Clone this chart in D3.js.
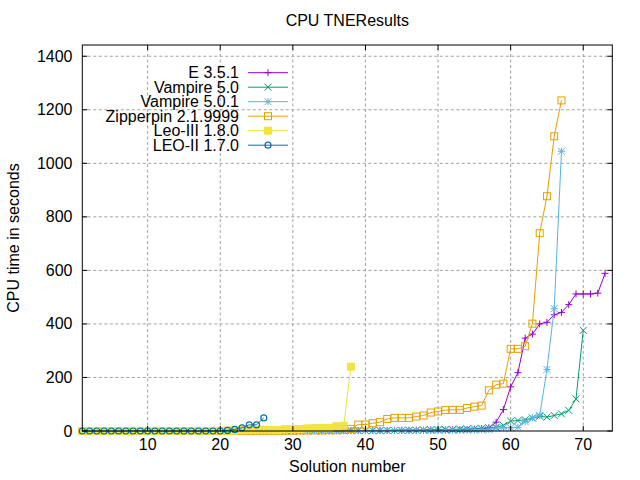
<!DOCTYPE html>
<html><head><meta charset="utf-8">
<script src="https://cdn.jsdelivr.net/npm/d3@7"></script>
<style>body{margin:0;background:#fff}svg text{font-family:"Liberation Sans",Arial,sans-serif;font-size:16px}</style>
</head><body>
<svg id="c" width="640" height="480"></svg>
<script>
const seriesNames = ["E 3.5.1","Vampire 5.0","Vampire 5.0.1","Zipperpin 2.1.9999","Leo-III 1.8.0","LEO-II 1.7.0"];
const seriesColors = ["#9400d3","#009e73","#56b4e9","#e69f00","#f0e442","#0072b2"];
const seriesMarkers = ["plus","cross","star","square","fsquare","circle"];
const xTicks = [10,20,30,40,50,60,70];
const yTicks = [0,200,400,600,800,1000,1200,1400];

const eValues = [0,0,0,0,0,0,0,0,0,0, 0,0,0,0,0,0,0,0,0,1, 1,1,1,1,1,1,1,1,1,1, 1,1,1,1,1,1,2,2,2,2, 2,2,2,3,3,3,3,3,4,4, 4,5,5,6,7,9,12,33,80,165, 218,347,362,400,406,434,443,472,512,512, 512,515,589];
const vamp50Values = [0,0,0,0,0,0,0,0,0,0, 0,0,0,0,0,0,0,0,0,0, 1,1,1,1,1,1,1,1,1,1, 1,1,1,1,1,1,1,2,2,2, 2,2,2,2,2,3,3,4,5,5, 6,6,7,8,8,10,12,14,21,37, 39,42,48,55,52,58,64,77,120,376];
const vamp501Values = [0,0,0,0,0,0,0,0,0,0, 0,0,0,0,0,0,0,0,0,0, 0,0,0,0,0,0,0,0,0,0, 1,1,1,1,1,1,1,1,1,1, 1,1,2,2,2,2,2,2,2,2, 3,3,3,3,4,4,5,11,12,12, 14,35,49,58,230,457,1045];
const zipValues = [0,0,0,0,0,0,0,0,0,0, 0,0,0,0,0,0,0,0,0,0, 1,1,1,1,1,1,1,1,1,1, 2,2,2,2,3,3,4,8,24,24, 29,33,45,49,49,49,54,58,69,73, 78,79,79,86,91,95,152,173,177,307, 307,317,401,739,877,1101,1235];
const leo3Values = [0,0,0,0,0,0,0,0,0,0, 0,0,0,0,0,0,0,0,0,1, 1,2,3,4,4,5,4,4,7,7, 7,10,11,11,11,18,20,240];
const leo2Values = [0,0,0,0,0,0,0,0,0,0, 0,0,0,0,0,0,0,0,0,0, 2,6,12,23,23,49];
const allValues = [eValues,vamp50Values,vamp501Values,zipValues,leo3Values,leo2Values];

const svg = d3.select("#c");
const L=82.3,R=612.3,T=45,B=431;
const x = d3.scaleLinear().domain([1,74]).range([L,R]);
const y = d3.scaleLinear().domain([0,1442]).range([B,T]);

// grid
const g = svg.append("g");
g.selectAll(".gx").data(xTicks).enter().append("line")
 .attr("x1",d=>x(d)).attr("x2",d=>x(d)).attr("y1",B).attr("y2",T)
 .attr("stroke","#a0a0a0").attr("stroke-width",1).attr("stroke-dasharray","3,2.5");
g.selectAll(".gy").data(yTicks.filter(d=>d>0)).enter().append("line")
 .attr("x1",L).attr("x2",R).attr("y1",d=>y(d)).attr("y2",d=>y(d))
 .attr("stroke","#a0a0a0").attr("stroke-width",1).attr("stroke-dasharray","3,2.5");

function marker(sel,type,color,cx,cy){
  const s=3.5;
  if(type==="plus"){
    sel.append("path").attr("d",`M${cx-s},${cy}H${cx+s}M${cx},${cy-s}V${cy+s}`).attr("stroke",color).attr("fill","none");
  }else if(type==="cross"){
    sel.append("path").attr("d",`M${cx-s},${cy-s}L${cx+s},${cy+s}M${cx-s},${cy+s}L${cx+s},${cy-s}`).attr("stroke",color).attr("fill","none");
  }else if(type==="star"){
    sel.append("path").attr("d",`M${cx-s},${cy}H${cx+s}M${cx},${cy-s}V${cy+s}M${cx-s},${cy-s}L${cx+s},${cy+s}M${cx-s},${cy+s}L${cx+s},${cy-s}`).attr("stroke",color).attr("fill","none");
  }else if(type==="square"){
    sel.append("rect").attr("x",cx-s).attr("y",cy-s).attr("width",2*s).attr("height",2*s).attr("stroke",color).attr("fill","none");
  }else if(type==="fsquare"){
    sel.append("rect").attr("x",cx-s-0.5).attr("y",cy-s-0.5).attr("width",2*s+1).attr("height",2*s+1).attr("fill",color);
  }else{
    sel.append("circle").attr("cx",cx).attr("cy",cy).attr("r",3).attr("stroke",color).attr("stroke-width",1.2).attr("fill","none");
  }
}

const line = d3.line().x((d,i)=>x(i+1)).y(d=>y(d));
allValues.forEach((vals,k)=>{
  const sg = svg.append("g");
  sg.append("path").datum(vals).attr("d",line).attr("fill","none").attr("stroke",seriesColors[k]).attr("stroke-width",1);
  vals.forEach((v,i)=>marker(sg,seriesMarkers[k],seriesColors[k],x(i+1),y(v)));
});

// border & ticks
svg.append("rect").attr("x",L).attr("y",T).attr("width",R-L).attr("height",B-T).attr("fill","none").attr("stroke","#000").attr("stroke-width",1);
const tl=5;
svg.selectAll(".tx").data(xTicks).enter().append("path")
 .attr("d",d=>`M${x(d)},${B}v${-tl}M${x(d)},${T}v${tl}`).attr("stroke","#000");
svg.selectAll(".ty").data(yTicks).enter().append("path")
 .attr("d",d=>`M${L},${y(d)}h${tl}M${R},${y(d)}h${-tl}`).attr("stroke","#000");
svg.selectAll(".lx").data(xTicks).enter().append("text")
 .attr("x",d=>x(d)).attr("y",450).attr("text-anchor","middle").text(d=>d);
svg.selectAll(".ly").data(yTicks).enter().append("text")
 .attr("x",72.5).attr("y",d=>y(d)+5.5).attr("text-anchor","end").text(d=>d);

svg.append("text").attr("x",(L+R)/2).attr("y",26).attr("text-anchor","middle").text("CPU TNEResults");
svg.append("text").attr("x",(L+R)/2).attr("y",472).attr("text-anchor","middle").text("Solution number");
svg.append("text").attr("transform",`translate(19,${(T+B)/2}) rotate(-90)`).attr("text-anchor","middle").text("CPU time in seconds");

// legend
seriesNames.forEach((n,k)=>{
  const ly = 72.7 + k*14.5;
  svg.append("text").attr("x",239).attr("y",ly+5.5).attr("text-anchor","end").text(n);
  svg.append("line").attr("x1",248).attr("x2",288).attr("y1",ly).attr("y2",ly).attr("stroke",seriesColors[k]);
  marker(svg,seriesMarkers[k],seriesColors[k],268,ly);
});
</script>
</body></html>
